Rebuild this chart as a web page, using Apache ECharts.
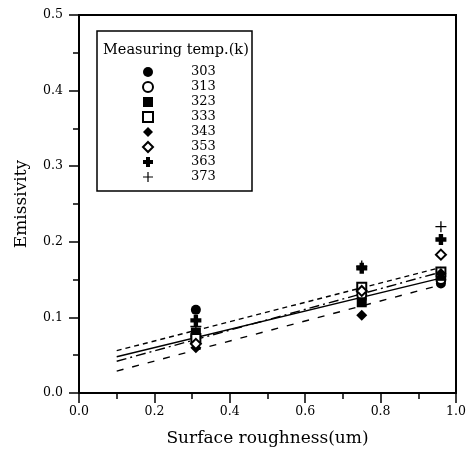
<!DOCTYPE html>
<html><head><meta charset="utf-8">
<script src="https://cdn.jsdelivr.net/npm/echarts@6/dist/echarts.min.js"></script>
<style>html,body{margin:0;padding:0;background:#fff}#c{width:473px;height:464px}</style>
</head><body><div id="c"></div>
<script>
// ---- data ----
const roughness = [0.31, 0.75, 0.96];
const temps = ['303','313','323','333','343','353','363','373'];
const em303 = [0.110, 0.125, 0.145];
const em313 = [0.075, 0.130, 0.150];
const em323 = [0.080, 0.120, 0.155];
const em333 = [0.072, 0.140, 0.160];
const em343 = [0.060, 0.103, 0.158];
const em353 = [0.065, 0.135, 0.183];
const em363 = [0.096, 0.165, 0.203];
const em373 = [0.088, 0.168, 0.220];
const fitX = [0.1, 0.96];
const fitA = [0.056, 0.166];
const fitB = [0.048, 0.152];
const fitC = [0.042, 0.160];
const fitD = [0.029, 0.143];
const xTicks = [0, 0.2, 0.4, 0.6, 0.8, 1.0];
const yTicks = [0, 0.1, 0.2, 0.3, 0.4, 0.5];

const FONT = 'DejaVu Serif';
const thickPlus = 'path://M3,0H7V3H10V7H7V10H3V7H0V3H3Z';
const thinPlus = 'path://M4.4,0H5.6V4.4H10V5.6H5.6V10H4.4V5.6H0V4.4H4.4Z';
const styles = [
  {symbol:'circle', size:10, fill:'#000'},
  {symbol:'circle', size:9, fill:'#fff'},
  {symbol:'rect', size:10, fill:'#000'},
  {symbol:'rect', size:9, fill:'#fff'},
  {symbol:'diamond', size:11, fill:'#000'},
  {symbol:'diamond', size:10, fill:'#fff'},
  {symbol:thickPlus, size:11, fill:'#000'},
  {symbol:thinPlus, size:11, fill:'#000'}
];
const values = [em303, em313, em323, em333, em343, em353, em363, em373];

const series = [];
const lineDefs = [
  {d: fitA, type: [5,4]},
  {d: fitB, type: 'solid'},
  {d: fitC, type: [10,4,2,4]},
  {d: fitD, type: [7,9]}
];
lineDefs.forEach((l, i) => {
  series.push({
    name: 'fit' + i, type: 'line', silent: true, symbol: 'none',
    data: fitX.map((x, k) => [x, l.d[k]]),
    lineStyle: {color: '#000', width: 1.4, type: l.type},
    z: 2
  });
});
temps.forEach((t, i) => {
  const s = styles[i];
  series.push({
    name: t, type: 'scatter', symbol: s.symbol, symbolSize: s.size,
    data: roughness.map((x, k) => [x, values[i][k]]),
    itemStyle: {color: s.fill, borderColor: '#000', borderWidth: s.fill === '#fff' ? 2 : 0, opacity: 1},
    z: 5
  });
});

const axisCommon = {
  type: 'value',
  axisLine: {show: true, lineStyle: {color: '#000', width: 2}},
  axisTick: {show: true, length: 10, lineStyle: {color: '#000', width: 1.5}},
  minorTick: {show: true, splitNumber: 2, length: 6, lineStyle: {color: '#000', width: 1.5}},
  splitLine: {show: false},
  axisLabel: {color: '#000', fontFamily: FONT, fontSize: 12.5, formatter: v => v.toFixed(1)},
  nameLocation: 'middle',
  nameTextStyle: {color: '#000', fontFamily: FONT, fontSize: 17}
};

const chart = echarts.init(document.getElementById('c'));
chart.setOption({
  animation: false,
  backgroundColor: '#fff',
  grid: {left: 79, right: 17, top: 15, bottom: 71, show: true, borderColor: '#000', borderWidth: 2, backgroundColor: 'transparent'},
  xAxis: Object.assign({}, axisCommon, {
    min: xTicks[0], max: xTicks[xTicks.length-1], interval: xTicks[1]-xTicks[0],
    name: 'Surface roughness(um)', nameGap: 37,
    axisLabel: Object.assign({}, axisCommon.axisLabel, {margin: 12})
  }),
  yAxis: Object.assign({}, axisCommon, {
    min: yTicks[0], max: yTicks[yTicks.length-1], interval: yTicks[1]-yTicks[0],
    name: 'Emissivity', nameGap: 49,
    axisLabel: Object.assign({}, axisCommon.axisLabel, {margin: 16})
  }),
  legend: {
    data: temps, orient: 'vertical', left: 142, top: 65.5, padding: 0,
    itemWidth: 10, itemHeight: 10, itemGap: 2,
    selectedMode: false,
    formatter: n => '{s|}' + n,
    textStyle: {color: '#000', fontFamily: FONT, fontSize: 13, lineHeight: 13,
      rich: {s: {width: 33}}}
  },
  graphic: [
    {type: 'rect', shape: {x: 97, y: 31, width: 155, height: 160}, style: {fill: 'none', stroke: '#000', lineWidth: 1.5}, z: 10},
    {type: 'text', x: 103, y: 50, style: {text: 'Measuring temp.(k)', fill: '#000', font: '14.5px "DejaVu Serif"', verticalAlign: 'middle'}, z: 10}
  ],
  series: series
});
</script></body></html>
